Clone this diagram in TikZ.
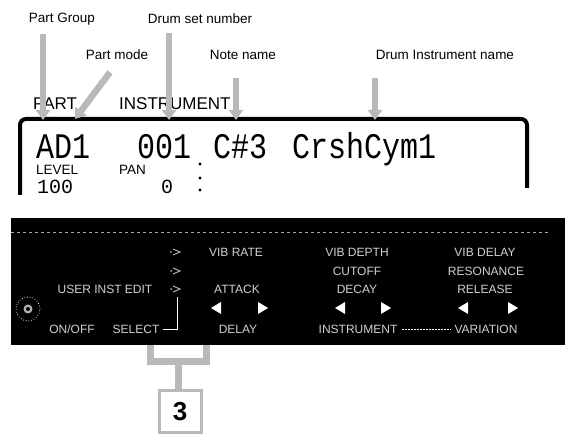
\documentclass[tikz,border=0pt]{standalone}
\usepackage{fontspec}
\setmainfont{Liberation Sans}
\setmonofont{Liberation Mono}
\usetikzlibrary{arrows.meta}
\begin{document}
\begin{tikzpicture}[x=1pt,y=-1pt,
  lbl/.style={font=\fontsize{13.5}{15}\selectfont, inner sep=0pt},
  fat/.style={line width=6.5pt, draw=gray!55, -{Triangle[width=14pt,length=10pt]}},
  lcdbig/.style={font=\ttfamily\fontsize{30}{30}\selectfont, inner sep=0pt, anchor=base west},
  lcdsmall/.style={font=\ttfamily\fontsize{20}{20}\selectfont, inner sep=0pt, anchor=north west},
  lcdlbl/.style={font=\fontsize{13.5}{15}\selectfont, inner sep=0pt, anchor=base west},
  ptxt/.style={text=white!82!black, font=\fontsize{12}{13}\selectfont, inner sep=0pt},
  icon/.style={draw=gray!65, line width=1pt},
  tri/.style={fill=white},
  brk/.style={draw=gray!55, line width=7pt}
]
\useasboundingbox (0,0) rectangle (565,435);

% top labels
\node[lbl] (pg)  at (62,19)  {Part Group};
\node[lbl] (dsn) at (200,19) {Drum set number};
\node[lbl] (pm)  at (117,55) {Part mode};
\node[lbl] (nn)  at (243,55) {Note name};
\node[lbl] (din) at (445,55) {Drum Instrument name};

% header words
\node[font=\fontsize{17}{18}\selectfont, inner sep=0pt, anchor=base west] (part) at (33,110) {PART};
\node[font=\fontsize{17}{18}\selectfont, inner sep=0pt, anchor=base west] (instr) at (119,110) {INSTRUMENT};

% LCD frame
\draw[line width=4pt, rounded corners=6pt] (20,195) -- (20,119) -- (527,119) -- (527,188);

% LCD contents
\node[lcdbig] (ad) at (36,159) {\scalebox{1}[1.2]{AD1}};
\node[lcdbig] (num) at (137,159) {\scalebox{1}[1.2]{001}};
\node[lcdbig] (note) at (213,159) {\scalebox{1}[1.2]{C\#3}};
\node[lcdbig] (inm) at (292,159) {\scalebox{1}[1.2]{CrshCym1}};
\node[lcdlbl] (lev) at (36,175) {LEVEL};
\node[lcdlbl] (pan) at (119,175) {PAN};
\node[lcdsmall] (levv) at (37,180) {100};
\node[lcdsmall] (panv) at (161,180) {0};
\fill (200,164) circle (1.6) (200,178) circle (1.6) (200,190) circle (1.6);

% arrow targets
\coordinate (tpg) at (43,120);
\coordinate (tpm) at (75,119);
\coordinate (tdsn) at (169,120);
\coordinate (tnn) at (236,120);
\coordinate (tdin) at (375,120);

% fat arrows
\draw[fat] ([yshift=-9pt]pg.south -| tpg) -- (tpg);
\draw[fat] ([xshift=-7pt,yshift=-12pt]pm.south) -- (tpm);
\draw[fat] ([yshift=-9pt]dsn.south -| tdsn) -- (tdsn);
\draw[fat] ([yshift=-18pt]nn.south -| tnn) -- (tnn);
\draw[fat] ([yshift=-18pt]din.south -| tdin) -- (tdin);

% panel
\fill[black] (11,218) rectangle (565,345);
\draw[gray!70, dashed, line width=0.6pt] (11,232) -- (548,232);

\node[ptxt] (vr) at (236,252) {VIB RATE};
\node[ptxt] (vd) at (357,252) {VIB DEPTH};
\node[ptxt] (vy) at (485,252) {VIB DELAY};
\node[ptxt] (co) at (357,271) {CUTOFF};
\node[ptxt] (rs) at (486,271) {RESONANCE};
\node[ptxt] (uie) at (105,289) {USER INST EDIT};
\node[ptxt] (at) at (237,289) {ATTACK};
\node[ptxt] (dc) at (357,289) {DECAY};
\node[ptxt] (rl) at (485,289) {RELEASE};
\node[ptxt] (oo) at (72,329) {ON/OFF};
\node[ptxt] (sel) at (136,329) {SELECT};
\node[ptxt] (dl) at (238,329) {DELAY};
\node[ptxt] (inst) at (358,329) {INSTRUMENT};
\node[ptxt] (var) at (486,329) {VARIATION};

% indicator icons
\coordinate (ic1) at (177,252);
\coordinate (ic2) at (177,271);
\coordinate (ic3) at (177,289);
\foreach \c in {ic1,ic2,ic3}{
  \draw[icon] ([xshift=-4pt,yshift=3pt]\c) -- ([xshift=3pt]\c) -- ([xshift=-4pt,yshift=-3pt]\c);
  \fill[gray!65] ([xshift=-6pt]\c) circle (1);
}

% select line
\draw[white, line width=0.8pt] ([xshift=3pt]sel.east) -| ([yshift=-8pt]ic3);
% instrument - variation dashed
\draw[white, dash pattern=on 2pt off 1pt, line width=0.6pt] ([xshift=4pt]inst.east) -- ([xshift=-4pt]var.west);

% triangles
\foreach \lx/\rx in {216/263, 340/386, 463/513}{
  \fill[tri] (\lx-5,308) -- (\lx+5,302) -- (\lx+5,314) -- cycle;
  \fill[tri] (\rx+5,308) -- (\rx-5,302) -- (\rx-5,314) -- cycle;
}

% on/off button
\node[circle, draw=white, dotted, line width=0.7pt, minimum size=24pt, inner sep=0pt] (btn) at (28,309) {};
\fill[gray!60] (btn.center) circle (4.5);
\fill[black] (btn.center) circle (2);

% bracket and callout
\coordinate (bl) at (150,345);
\coordinate (br) at (206,345);
\coordinate (bm) at (178,362);
\draw[brk] (bl) -- (150,362) -- (206,362) -- (br);
\node[draw=gray!55, line width=3pt, minimum width=42pt, minimum height=42pt, inner sep=0pt,
      font=\bfseries\fontsize{26}{26}\selectfont] (three) at (180,412) {3};
\draw[brk] (bm) -- (bm |- three.north);
\end{tikzpicture}
\end{document}
